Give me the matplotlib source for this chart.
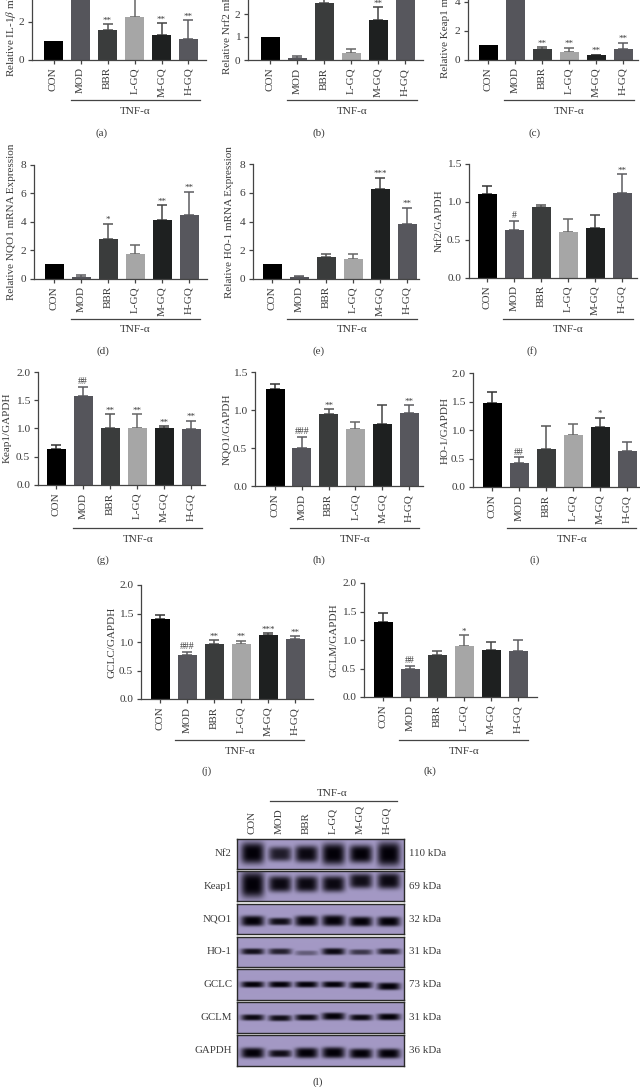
"""Bar panels (a)-(k) and western blot panel (l) for the TNF-a figure."""

import matplotlib
matplotlib.use('Agg')
import matplotlib.pyplot as plt
import numpy as np

plt.rcParams['font.family'] = ['Liberation Serif', 'DejaVu Serif']
plt.rcParams['mathtext.fontset'] = 'stix'

W, H = 640, 1087
TEXT = '#3a3a3a'
AXIS = '#444444'
FS = 8.0

GROUPS = ['CON', 'MOD', 'BBR', 'L-GQ', 'M-GQ', 'H-GQ']
BAR_COLORS = ['#000000', '#55555b', '#3a3c3c', '#a6a6a6', '#1e2020', '#57575d']
ERR_COLORS = ['#333333', '#5c5c60', '#555555', '#666666', '#444444', '#5c5c60']

# bar heights, top of error bar, significance marks
a_vals = [1.0, 3.4, 1.55, 2.25, 1.3, 1.1]
a_errs = [1.0, 3.7, 1.85, 3.4, 1.9, 2.07]
a_marks = ['', '', '**', '', '**', '**']

b_vals = [1.0, 0.1, 2.46, 0.3, 1.74, 3.2]
b_errs = [1.0, 0.17, 2.8, 0.5, 2.3, 3.6]
b_marks = ['', '', '', '', '**', '']

c_vals = [1.0, 4.8, 0.75, 0.5, 0.3, 0.7]
c_errs = [1.0, 5.2, 0.85, 0.8, 0.33, 1.15]
c_marks = ['', '', '**', '**', '**', '**']

d_vals = [1.0, 0.15, 2.8, 1.7, 4.1, 4.45]
d_errs = [1.0, 0.25, 3.85, 2.4, 5.15, 6.1]
d_marks = ['', '', '*', '', '**', '**']

e_vals = [1.0, 0.12, 1.55, 1.4, 6.3, 3.85]
e_errs = [1.0, 0.22, 1.75, 1.75, 7.05, 4.95]
e_marks = ['', '', '', '', '***', '**']

f_vals = [1.1, 0.63, 0.93, 0.6, 0.66, 1.12]
f_errs = [1.21, 0.75, 0.96, 0.77, 0.83, 1.36]
f_marks = ['', '#', '', '', '', '**']

g_vals = [0.64, 1.57, 1.01, 1.0, 1.0, 0.99]
g_errs = [0.71, 1.74, 1.25, 1.25, 1.04, 1.14]
g_marks = ['', '##', '**', '**', '**', '**']

h_vals = [1.27, 0.5, 0.95, 0.75, 0.81, 0.96]
h_errs = [1.34, 0.65, 1.01, 0.84, 1.06, 1.06]
h_marks = ['', '###', '**', '', '', '**']

i_vals = [1.47, 0.42, 0.67, 0.92, 1.06, 0.64]
i_errs = [1.67, 0.52, 1.07, 1.1, 1.21, 0.79]
i_marks = ['', '##', '', '', '*', '']

j_vals = [1.41, 0.77, 0.97, 0.96, 1.13, 1.05]
j_errs = [1.47, 0.82, 1.03, 1.02, 1.15, 1.10]
j_marks = ['', '###', '**', '**', '***', '**']

k_vals = [1.32, 0.49, 0.74, 0.89, 0.83, 0.81]
k_errs = [1.48, 0.55, 0.80, 1.08, 0.97, 1.0]
k_marks = ['', '##', '', '*', '', '']

# blot panel
BLOT_ROWS = ['Nf2', 'Keap1', 'NQO1', 'HO-1', 'GCLC', 'GCLM', 'GAPDH']
BLOT_KDA = ['110 kDa', '69 kDa', '32 kDa', '31 kDa', '73 kDa', '31 kDa', '36 kDa']
# band darkness per lane, band half thickness in row fractions
blot_strength = [
    [1.0, 0.82, 0.95, 1.0, 1.0, 1.0],
    [1.0, 0.95, 0.95, 0.95, 0.92, 0.95],
    [1.0, 0.92, 1.0, 1.0, 1.0, 1.0],
    [0.9, 0.8, 0.4, 0.95, 0.65, 0.85],
    [1.0, 1.0, 1.0, 1.0, 1.0, 1.0],
    [0.95, 0.92, 0.95, 1.0, 0.95, 1.0],
    [1.0, 0.92, 1.0, 1.0, 1.0, 1.0],
]
blot_thickness = [
    [0.36, 0.24, 0.28, 0.36, 0.30, 0.40],
    [0.42, 0.26, 0.26, 0.26, 0.24, 0.26],
    [0.17, 0.12, 0.17, 0.18, 0.16, 0.16],
    [0.10, 0.10, 0.08, 0.11, 0.09, 0.10],
    [0.10, 0.10, 0.10, 0.10, 0.11, 0.12],
    [0.10, 0.10, 0.10, 0.12, 0.10, 0.11],
    [0.17, 0.12, 0.17, 0.18, 0.16, 0.16],
]
blot_offset = [
    [0.47, 0.50, 0.50, 0.50, 0.50, 0.50],
    [0.47, 0.45, 0.45, 0.45, 0.35, 0.35],
    [0.58, 0.60, 0.58, 0.57, 0.60, 0.60],
    [0.50, 0.50, 0.55, 0.50, 0.52, 0.50],
    [0.50, 0.50, 0.50, 0.50, 0.52, 0.56],
    [0.50, 0.52, 0.50, 0.46, 0.50, 0.48],
    [0.58, 0.60, 0.58, 0.57, 0.60, 0.60],
]
BLOT_Y = [(838.7, 868.7), (871.3, 901.3), (904, 934), (936.7, 966.7),
          (969.3, 1000), (1002.3, 1032.7), (1035.3, 1065.7)]
LANE_X = [252.5, 280, 306.5, 333.5, 361, 389]


def fig_text(fig, x, y, s, **kw):
    """Place text at reference pixel coordinates."""
    kw.setdefault('color', TEXT)
    return fig.text(x / W, 1 - y / H, s, **kw)


def draw_panel(fig, vals, errs, marks, p):
    """One bar panel, placed from its axis geometry in pixels."""
    left, right, base, top = p['left'], p['right'], p['base'], p['top']
    ax = fig.add_axes([left / W, 1 - base / H, (right - left) / W, (base - top) / H])
    ax.patch.set_alpha(0)
    c0, step = p['c0'], p['step']
    ax.set_xlim((left - c0) / step, (right - c0) / step)
    ax.set_ylim(0, p['ymax'])
    x = np.arange(len(GROUPS))
    ax.bar(x, vals, width=19 / step, color=BAR_COLORS, zorder=2)
    for xi, v, e, col, m in zip(x, vals, errs, ERR_COLORS, marks):
        if e > v:
            ax.errorbar(xi, v, yerr=[[0], [e - v]], color=col, capsize=3.3,
                        elinewidth=1.1, capthick=1.1, zorder=1)
        if m:
            lift = 2.0 if '#' in m else 1.2
            size = 7 if '#' in m else 6.5
            ax.annotate(m, (xi, e), xytext=(0, lift), textcoords='offset points',
                        ha='center', va='baseline', fontsize=size, color=TEXT,
                        annotation_clip=False)
    for side in ['top', 'right']:
        ax.spines[side].set_visible(False)
    for side in ['left', 'bottom']:
        ax.spines[side].set_color(AXIS)
        ax.spines[side].set_linewidth(0.9)
    ax.set_xticks(x)
    ax.set_xticklabels(GROUPS, rotation=90, fontsize=FS, color=TEXT)
    ax.set_yticks(p['ticks'])
    ax.set_yticklabels(p['ticklabels'], fontsize=8.2, color=TEXT)
    ax.tick_params(axis='both', length=3, width=0.9, color=AXIS, pad=2.5)

    fig_text(fig, p['ylab_x'], p['ylab_y'], p['ylabel'], rotation=90, ha='center',
             va='center', fontsize=FS)
    fig.add_artist(plt.Line2D([p['ul'][0] / W, p['ul'][1] / W], [1 - p['ul_y'] / H] * 2,
                              color=AXIS, linewidth=0.9))
    fig_text(fig, p['tnf_x'], p['ul_y'] + 11, 'TNF-α', ha='center', va='center', fontsize=FS)
    fig_text(fig, p['tag'][0], p['tag'][1], p['tag'][2], ha='center', va='center', fontsize=FS)


def blot_image(row):
    """Smooth band image for one blot strip, built from the per-lane tables."""
    xs = np.linspace(237, 404, 334)
    ys = np.linspace(0, 1, 60)
    xx, yy = np.meshgrid(xs, ys)
    dark = np.zeros_like(xx)
    half_w = 11.5
    for lane, cx in enumerate(LANE_X):
        horiz = np.exp(-np.abs((xx - cx) / half_w) ** 4)
        vert = np.exp(-np.abs((yy - blot_offset[row][lane]) / blot_thickness[row][lane]) ** 3.5)
        dark = np.maximum(dark, blot_strength[row][lane] * horiz * vert)
    bg = np.array([0.64, 0.60, 0.77])
    band = np.array([0.01, 0.0, 0.03])
    return bg[None, None, :] * (1 - dark[..., None]) + band[None, None, :] * dark[..., None]


def draw_blots(fig):
    left, right = 237, 404
    for row, name in enumerate(BLOT_ROWS):
        y0, y1 = BLOT_Y[row]
        ax = fig.add_axes([left / W, 1 - y1 / H, (right - left) / W, (y1 - y0) / H])
        ax.imshow(blot_image(row), aspect='auto', interpolation='bilinear')
        ax.set_xticks([])
        ax.set_yticks([])
        for sp in ax.spines.values():
            sp.set_color('#2a2a2a')
            sp.set_linewidth(1.0)
        mid = (y0 + y1) / 2
        fig_text(fig, 232, mid, name, ha='right', va='center', fontsize=7.8)
        fig_text(fig, 409, mid, BLOT_KDA[row], ha='left', va='center', fontsize=7.8)
    for x, name in zip([252, 279, 306, 333, 360, 387], GROUPS):
        fig_text(fig, x, 834, name, rotation=90, ha='center', va='bottom', fontsize=7.8)
    fig.add_artist(plt.Line2D([270 / W, 397 / W], [1 - 801 / H] * 2, color=AXIS, linewidth=0.9))
    fig_text(fig, 332, 793, 'TNF-α', ha='center', va='center', fontsize=FS)
    fig_text(fig, 318, 1082, '(l)', ha='center', va='center', fontsize=FS)


T8 = ([0, 2, 4, 6, 8], ['0', '2', '4', '6', '8'])
T15 = ([0, 0.5, 1.0, 1.5], ['0.0', '0.5', '1.0', '1.5'])
T20 = ([0, 0.5, 1.0, 1.5, 2.0], ['0.0', '0.5', '1.0', '1.5', '2.0'])

PANELS = [
    (a_vals, a_errs, a_marks, dict(left=32, right=206, base=59.5, top=-92.5, ymax=8, ticks=[0, 2], ticklabels=['0', '2'],
        c0=53.5, step=27, ylabel='Relative IL-1$\\beta$ mRNA Expression', ylab_x=11, ylab_y=0,
        ul=(71, 200), ul_y=100, tnf_x=135, tag=(102, 133, '(a)'))),
    (b_vals, b_errs, b_marks, dict(left=248, right=423, base=60, top=-32, ymax=4, ticks=[0, 1, 2], ticklabels=['0', '1', '2'],
        c0=270, step=27, ylabel='Relative Nrf2 mRNA Expression', ylab_x=227, ylab_y=0,
        ul=(287, 417), ul_y=100, tnf_x=352, tag=(319, 133, '(b)'))),
    (c_vals, c_errs, c_marks, dict(left=468, right=638, base=59.5, top=-55.7, ymax=8, ticks=[0, 2, 4], ticklabels=['0', '2', '4'],
        c0=488, step=27, ylabel='Relative Keap1 mRNA Expression', ylab_x=445, ylab_y=0,
        ul=(504, 634), ul_y=100, tnf_x=569, tag=(535, 133, '(c)'))),
    (d_vals, d_errs, d_marks, dict(left=34, right=207, base=278.7, top=164.7, ymax=8, ticks=T8[0], ticklabels=T8[1],
        c0=54, step=27, ylabel='Relative NQO1 mRNA Expression', ylab_x=12, ylab_y=221.5,
        ul=(71, 200), ul_y=319, tnf_x=135, tag=(103, 351, '(d)'))),
    (e_vals, e_errs, e_marks, dict(left=253, right=419, base=278.7, top=164.3, ymax=8, ticks=T8[0], ticklabels=T8[1],
        c0=272, step=27, ylabel='Relative HO-1 mRNA Expression', ylab_x=229, ylab_y=222.5,
        ul=(287, 417), ul_y=319, tnf_x=352, tag=(319, 351, '(e)'))),
    (f_vals, f_errs, f_marks, dict(left=469, right=637, base=277.7, top=163.7, ymax=1.5, ticks=T15[0], ticklabels=T15[1],
        c0=487, step=27, ylabel='Nrf2/GAPDH', ylab_x=439, ylab_y=221,
        ul=(503, 633), ul_y=319, tnf_x=568, tag=(532, 351, '(f)'))),
    (g_vals, g_errs, g_marks, dict(left=38, right=205, base=485, top=372, ymax=2, ticks=T20[0], ticklabels=T20[1],
        c0=56, step=27, ylabel='Keap1/GAPDH', ylab_x=7, ylab_y=428,
        ul=(73, 202), ul_y=528, tnf_x=138, tag=(103, 560, '(g)'))),
    (h_vals, h_errs, h_marks, dict(left=255, right=423, base=486, top=372, ymax=1.5, ticks=T15[0], ticklabels=T15[1],
        c0=275, step=26.8, ylabel='NQO1/GAPDH', ylab_x=227, ylab_y=429,
        ul=(290, 419), ul_y=528, tnf_x=355, tag=(319, 560, '(h)'))),
    (i_vals, i_errs, i_marks, dict(left=473, right=640, base=487, top=373, ymax=2, ticks=T20[0], ticklabels=T20[1],
        c0=492, step=27, ylabel='HO-1/GAPDH', ylab_x=445, ylab_y=430,
        ul=(507, 636), ul_y=528, tnf_x=572, tag=(535, 560, '(i)'))),
    (j_vals, j_errs, j_marks, dict(left=141, right=313, base=699, top=585, ymax=2, ticks=T20[0], ticklabels=T20[1],
        c0=160, step=27, ylabel='GCLC/GAPDH', ylab_x=112, ylab_y=642,
        ul=(175, 304), ul_y=740, tnf_x=240, tag=(207, 771, '(j)'))),
    (k_vals, k_errs, k_marks, dict(left=364, right=537, base=697, top=583, ymax=2, ticks=T20[0], ticklabels=T20[1],
        c0=383, step=27, ylabel='GCLM/GAPDH', ylab_x=334, ylab_y=640,
        ul=(399, 528), ul_y=740, tnf_x=464, tag=(430, 771, '(k)'))),
]


def main():
    fig = plt.figure(figsize=(W / 100, H / 100), dpi=100, facecolor='white')
    for vals, errs, marks, p in PANELS:
        draw_panel(fig, vals, errs, marks, p)
    draw_blots(fig)
    fig.savefig('out.png', dpi=100)
    plt.close(fig)


if __name__ == "__main__":
    main()
